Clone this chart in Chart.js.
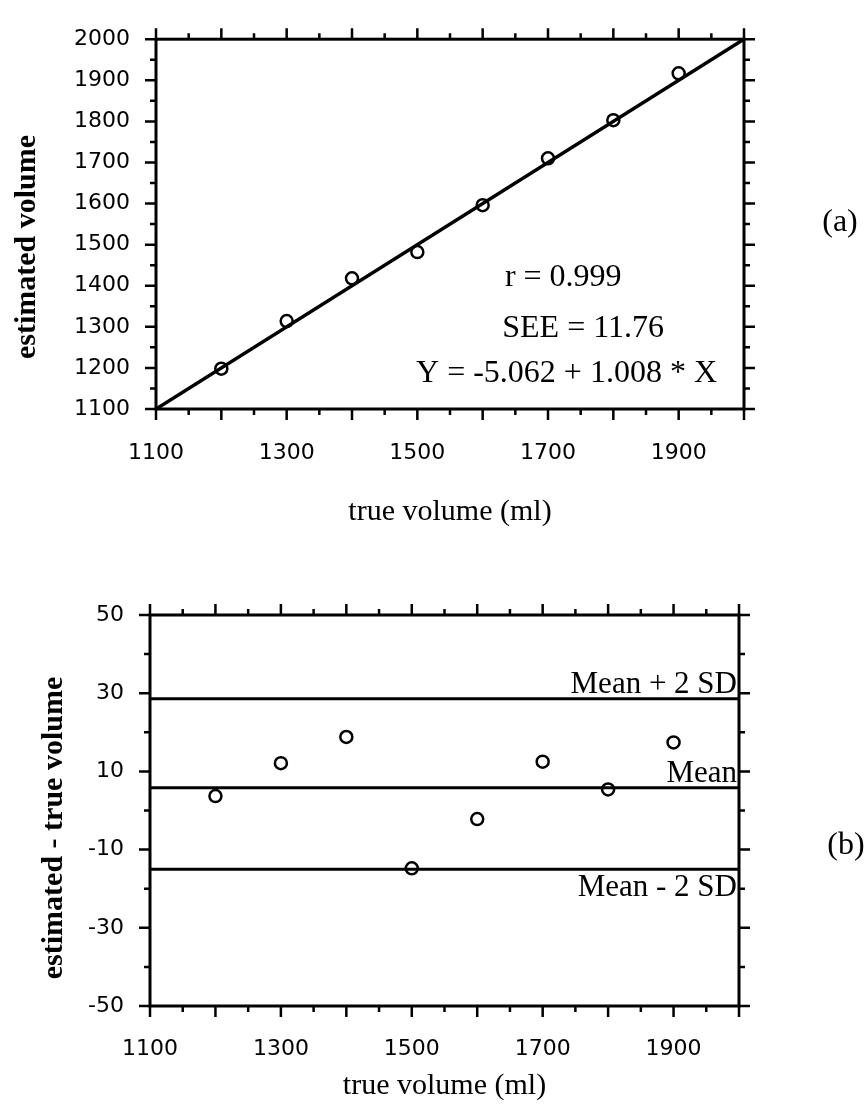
<!DOCTYPE html>
<html>
<head>
<meta charset="utf-8">
<script src="https://cdn.jsdelivr.net/npm/chart.js@4.4.1/dist/chart.umd.min.js"></script>
<style>
html, body { margin: 0; padding: 0; background: #fff; }
#page { position: relative; width: 867px; height: 1104px; overflow: hidden; }
canvas { position: absolute; left: 0; }
.panel { position: absolute; font: 32px "Liberation Serif", serif; color: #000; transform: translate(-50%, -50%); }
</style>
</head>
<body>
<div id="page">
  <canvas id="fitChart" width="867" height="540" style="top:0"></canvas>
  <canvas id="diffChart" width="867" height="544" style="top:560px"></canvas>
  <div class="panel" style="left:840px;top:220px">(a)</div>
  <div class="panel" style="left:846px;top:843px">(b)</div>
</div>
<script>
// values
const trueVolume = [1200, 1300, 1400, 1500, 1600, 1700, 1800, 1900];
const estimatedVolume = [1198, 1314, 1418, 1482, 1596, 1710, 1803, 1917];
const fitLineX = [1100, 2000];
const fitLineY = [1100, 2000];
const differences = [3.7, 12.1, 18.8, -14.8, -2.2, 12.5, 5.4, 17.4];
const limitValues = [28.6, 5.8, -15.0];   // mean + 2SD, mean, mean - 2SD
const limitLabels = ['Mean + 2 SD', 'Mean', 'Mean - 2 SD'];
const fitStats = ['r = 0.999', 'SEE = 11.76', 'Y = -5.062 + 1.008 * X'];
const xTicks = [1100, 1300, 1500, 1700, 1900];

const tickFont = { family: 'DejaVu Sans', size: 22 };
const serif = '"Liberation Serif", serif';

// frame + outward tick marks on all four sides
const frameTicks = {
  id: 'frameTicks',
  afterDraw(chart, args, opts) {
    const { ctx, chartArea: a, scales: { x, y } } = chart;
    ctx.save();
    ctx.strokeStyle = '#000';
    ctx.lineWidth = 2.5;
    ctx.beginPath();
    let i = 0;
    for (let v = x.min; v <= x.max + 0.001; v += opts.xStep, i++) {
      const px = x.getPixelForValue(v);
      const len = i % 2 === 0 ? 11 : 6;
      ctx.moveTo(px, a.bottom); ctx.lineTo(px, a.bottom + len);
      ctx.moveTo(px, a.top); ctx.lineTo(px, a.top - len);
    }
    i = 0;
    for (let v = y.min; v <= y.max + 0.001; v += opts.yStep, i++) {
      const py = y.getPixelForValue(v);
      const len = i % 2 === 0 ? 11 : 6;
      ctx.moveTo(a.left, py); ctx.lineTo(a.left - len, py);
      ctx.moveTo(a.right, py); ctx.lineTo(a.right + len, py);
    }
    ctx.stroke();
    ctx.lineWidth = 3;
    ctx.strokeRect(a.left, a.top, a.right - a.left, a.bottom - a.top);
    // side title
    ctx.fillStyle = '#000';
    ctx.font = 'bold 30px ' + serif;
    ctx.textAlign = 'center';
    ctx.textBaseline = 'alphabetic';
    ctx.translate(opts.titleX, opts.titleY);
    ctx.rotate(-Math.PI / 2);
    ctx.fillText(opts.title, 0, 0);
    ctx.restore();
  }
};

const fitText = {
  id: 'fitText',
  afterDatasetsDraw(chart, args, opts) {
    const { ctx, scales: { x, y } } = chart;
    ctx.save();
    ctx.fillStyle = '#000';
    ctx.font = '32px ' + serif;
    ctx.textAlign = 'left';
    ctx.textBaseline = 'middle';
    fitStats.forEach((t, k) => {
      const p = opts.anchors[k];
      ctx.fillText(t, x.getPixelForValue(p[0]), y.getPixelForValue(p[1]));
    });
    ctx.restore();
  }
};

const limitText = {
  id: 'limitText',
  afterDatasetsDraw(chart) {
    const { ctx, chartArea: a, scales: { y } } = chart;
    ctx.save();
    ctx.fillStyle = '#000';
    ctx.font = '31px ' + serif;
    ctx.textAlign = 'right';
    limitLabels.forEach((t, k) => {
      const py = y.getPixelForValue(limitValues[k]);
      if (k < 2) { ctx.textBaseline = 'bottom'; ctx.fillText(t, a.right - 2, py + 2); }
      else { ctx.textBaseline = 'top'; ctx.fillText(t, a.right - 2, py + 3); }
    });
    ctx.restore();
  }
};

function xScale(labelPad, height, titlePad) {
  return {
    type: 'linear', min: 1100, max: 2000,
    grid: { display: false, drawTicks: false }, border: { display: false },
    ticks: {
      stepSize: 100, padding: labelPad, color: '#000', font: tickFont,
      autoSkip: false, maxRotation: 0,
      callback: v => xTicks.includes(v) ? String(v) : ''
    },
    title: { display: true, text: 'true volume (ml)', color: '#000',
             font: { family: serif, size: 30 }, padding: { top: 0, bottom: titlePad } },
    afterFit(s) { s.height = height; }
  };
}

const blackPoints = { pointRadius: 6, pointBorderWidth: 2.5, pointBorderColor: '#000',
                      pointBackgroundColor: 'rgba(0,0,0,0)', showLine: false };

new Chart(document.getElementById('fitChart'), {
  type: 'scatter',
  data: {
    datasets: [
      Object.assign({ data: trueVolume.map((v, i) => ({ x: v, y: estimatedVolume[i] })) }, blackPoints),
      { data: fitLineX.map((v, i) => ({ x: v, y: fitLineY[i] })), showLine: true,
        borderColor: '#000', borderWidth: 3.5, pointRadius: 0 }
    ]
  },
  options: {
    responsive: false, animation: false, devicePixelRatio: 1,
    layout: { padding: { left: 0, right: 123, top: 23, bottom: 0 } },
    plugins: {
      legend: { display: false }, tooltip: { enabled: false },
      frameTicks: { xStep: 50, yStep: 50, title: 'estimated volume', titleX: 35, titleY: 247 },
      fitText: { anchors: [[1634, 1419], [1630, 1296], [1498, 1185]] }
    },
    scales: {
      x: xScale(31, 131, 10),
      y: {
        type: 'linear', min: 1100, max: 2000,
        grid: { display: false, drawTicks: false }, border: { display: false },
        ticks: { stepSize: 100, padding: 26, color: '#000', font: tickFont, callback: v => String(v) },
        afterFit(s) { s.width = 156; }
      }
    }
  },
  plugins: [frameTicks, fitText]
});

new Chart(document.getElementById('diffChart'), {
  type: 'scatter',
  data: {
    datasets: [
      Object.assign({ data: trueVolume.map((v, i) => ({ x: v, y: differences[i] })) }, blackPoints),
      ...limitValues.map(v => ({
        data: [{ x: 1100, y: v }, { x: 2000, y: v }], showLine: true,
        borderColor: '#000', borderWidth: 3, pointRadius: 0
      }))
    ]
  },
  options: {
    responsive: false, animation: false, devicePixelRatio: 1,
    layout: { padding: { left: 0, right: 128, top: 55, bottom: 0 } },
    plugins: {
      legend: { display: false }, tooltip: { enabled: false },
      frameTicks: { xStep: 50, yStep: 10, title: 'estimated - true volume', titleX: 62, titleY: 268 }
    },
    scales: {
      x: xScale(30, 98, 0),
      y: {
        type: 'linear', min: -50, max: 50,
        grid: { display: false, drawTicks: false }, border: { display: false },
        ticks: { stepSize: 20, padding: 26, color: '#000', font: tickFont, callback: v => String(v) },
        afterFit(s) { s.width = 150; }
      }
    }
  },
  plugins: [frameTicks, limitText]
});
</script>
</body>
</html>
